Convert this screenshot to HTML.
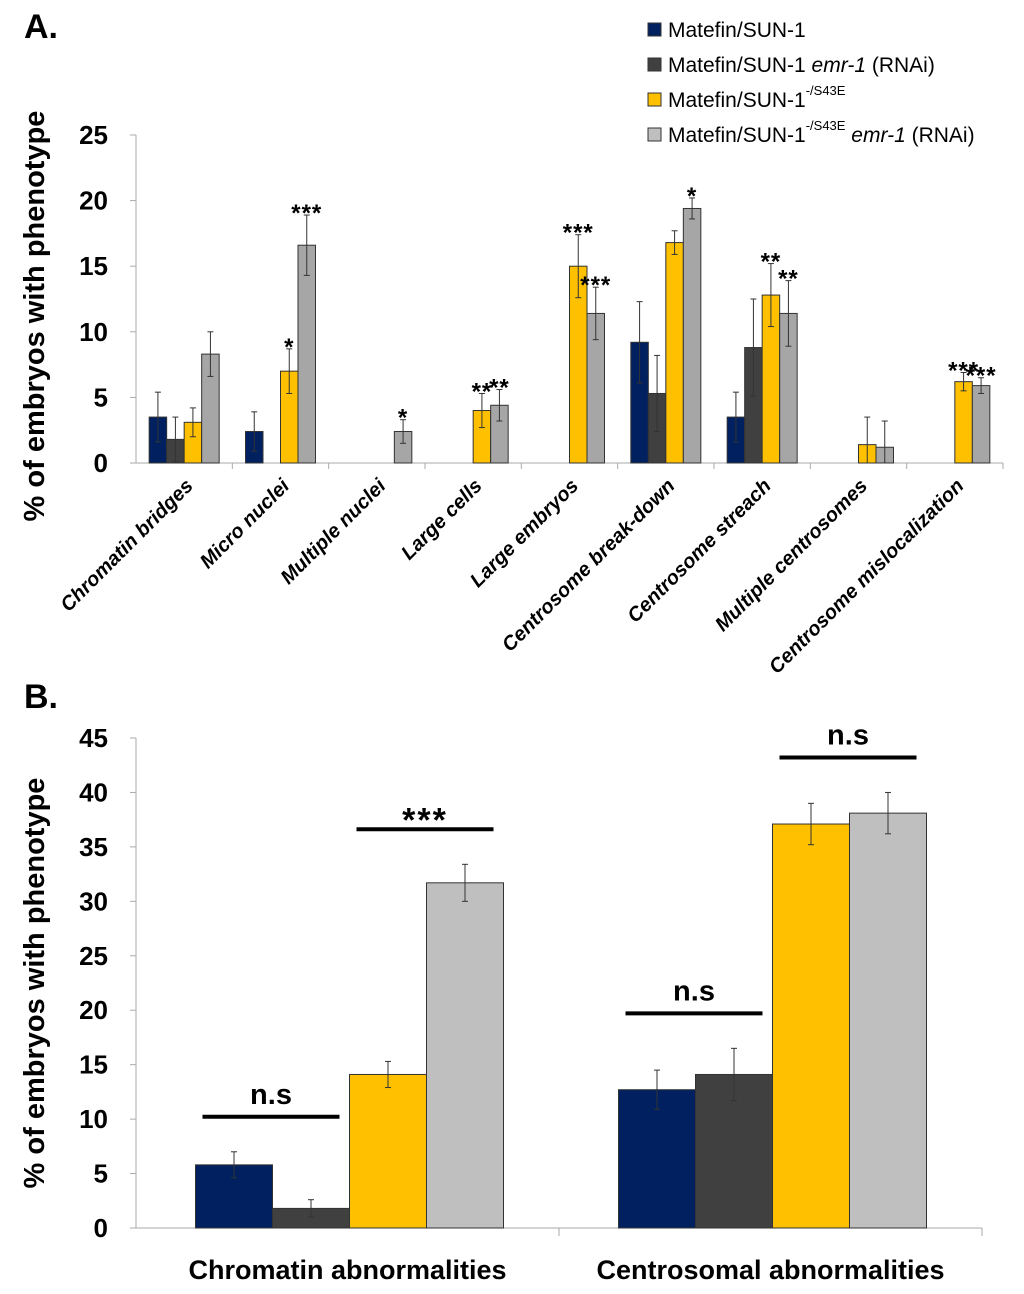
<!DOCTYPE html>
<html><head><meta charset="utf-8"><style>
html,body{margin:0;padding:0;background:#fff;}
svg{display:block;font-family:"Liberation Sans",sans-serif;}
</style></head><body>
<svg id="chart" width="1024" height="1294" viewBox="0 0 1024 1294" xmlns="http://www.w3.org/2000/svg">
<text x="24" y="38" font-size="34" font-weight="bold">A.</text>
<text x="24" y="708" font-size="34" font-weight="bold">B.</text>
<g>
<g><rect x="648" y="23" width="13" height="13" fill="#002060" stroke="#333"/><text x="668" y="37" font-size="21">Matefin/SUN-1</text></g>
<g><rect x="648" y="58" width="13" height="13" fill="#404040" stroke="#333"/><text x="668" y="72" font-size="21">Matefin/SUN-1 <tspan font-style="italic">emr-1</tspan> (RNAi)</text></g>
<g><rect x="648" y="93" width="13" height="13" fill="#ffc000" stroke="#333"/><text x="668" y="107" font-size="21">Matefin/SUN-1<tspan font-size="13" dy="-12">-/S43E</tspan></text></g>
<g><rect x="648" y="128" width="13" height="13" fill="#bfbfbf" stroke="#333"/><text x="668" y="142" font-size="21">Matefin/SUN-1<tspan font-size="13" dy="-12">-/S43E</tspan><tspan dy="12" font-style="italic"> emr-1</tspan> (RNAi)</text></g>
</g>
<g id="pa"></g><g id="pb"></g>
</svg>
<script>
const catsA=["Chromatin bridges","Micro nuclei","Multiple nuclei","Large cells","Large embryos","Centrosome break-down","Centrosome streach","Multiple centrosomes","Centrosome mislocalization"];
const a1=[3.5,2.4,0,0,0,9.2,3.5,0,0];
const a2=[1.8,0,0,0,0,5.3,8.8,0,0];
const a3=[3.1,7.0,0,4.0,15.0,16.8,12.8,1.4,6.2];
const a4=[8.3,16.6,2.4,4.4,11.4,19.4,11.4,1.2,5.9];
const e1=[1.9,1.5,0,0,0,3.1,1.9,0,0];
const e2=[1.7,0,0,0,0,2.9,3.7,0,0];
const e3=[1.1,1.7,0,1.3,2.4,0.9,2.4,2.1,0.7];
const e4=[1.7,2.3,0.9,1.2,2.0,0.8,2.5,2.0,0.6];
const s3=["","*","","**","***","","**","","***"];
const s4=["","***","*","**","***","*","**","","***"];
const ticksA=[0,5,10,15,20,25];
const catsB=["Chromatin  abnormalities","Centrosomal abnormalities"];
const b1=[5.8,12.7],b2=[1.8,14.1],b3=[14.1,37.1],b4=[31.7,38.1];
const f1=[1.2,1.8],f2=[0.8,2.4],f3=[1.2,1.9],f4=[1.7,1.9];
const ticksB=[0,5,10,15,20,25,30,35,40,45];
const colsA=["#002060","#404040","#ffc000","#a6a6a6"];
const colsB=["#002060","#404040","#ffc000","#bfbfbf"];
const NS="http://www.w3.org/2000/svg";
function mk(p,t,at,txt){const e=document.createElementNS(NS,t);for(const k in at)e.setAttribute(k,at[k]);if(txt!==undefined)e.textContent=txt;p.appendChild(e);return e;}
// Panel A
const pa=document.getElementById('pa');
const ax0=136,ax1=1003,ay0=463,ay1=135,amax=25;
const yA=v=>ay0-(v/amax)*(ay0-ay1);
const cwA=(ax1-ax0)/catsA.length,bwA=17.5;
let l=mk(pa,'line',{x1:ax0,y1:ay1,x2:ax0,y2:ay0,stroke:'#aaa'});

l=mk(pa,'line',{x1:ax0,y1:ay0,x2:ax1,y2:ay0,stroke:'#aaa'});

ticksA.forEach(t=>{mk(pa,'line',{x1:ax0-6,y1:yA(t),x2:ax0,y2:yA(t),stroke:'#aaa'});
 const tx=mk(pa,'text',{x:ax0-28,y:yA(t)+9,'font-size':26,'font-weight':'bold','text-anchor':'end'},t);
 });
const ta=mk(pa,'text',{transform:`translate(44,${(ay0+ay1)/2+17}) rotate(-90)`,'font-size':29,'font-weight':'bold','text-anchor':'middle'},'% of embryos with phenotype');

const sA=[a1,a2,a3,a4],eA=[e1,e2,e3,e4];
catsA.forEach((c,i)=>{
 const cx=ax0+cwA*i;
 mk(pa,'line',{x1:cx+cwA,y1:ay0,x2:cx+cwA,y2:ay0+6,stroke:'#aaa'});
 const g0=cx+(cwA-4*bwA)/2;
 sA.forEach((s,j)=>{const v=s[i];if(v<=0)return;const x=g0+j*bwA;
  const r=mk(pa,'rect',{x:x,y:yA(v),width:bwA,height:ay0-yA(v),fill:colsA[j],stroke:'#333','stroke-width':1});
  
  const e=eA[j][i];if(e>0){const xm=x+bwA/2;
   mk(pa,'line',{x1:xm,y1:yA(v+e),x2:xm,y2:yA(Math.max(0,v-e)),stroke:'#333'});
   mk(pa,'line',{x1:xm-3,y1:yA(v+e),x2:xm+3,y2:yA(v+e),stroke:'#333'});
   mk(pa,'line',{x1:xm-3,y1:yA(Math.max(0,v-e)),x2:xm+3,y2:yA(Math.max(0,v-e)),stroke:'#333'});}
 });
 [[s3,2,a3,e3],[s4,3,a4,e4]].forEach(([s,j,vv,ee])=>{if(!s[i])return;
  const st=mk(pa,'text',{x:g0+j*bwA+bwA/2,y:yA(vv[i]+ee[i])+6,'font-size':24,'font-weight':'bold','text-anchor':'middle','letter-spacing':1},s[i]);
  });
 const lab=mk(pa,'text',{transform:`translate(${cx+cwA/2+10},${ay0+24}) rotate(-45)`,'font-size':20,'font-weight':'bold','font-style':'italic','text-anchor':'end'},c);
 
});
// Panel B
const pb=document.getElementById('pb');
const bx0=136,bx1=982,by0=1228,by1=738,bmax=45;
const yB=v=>by0-(v/bmax)*(by0-by1);
const cwB=(bx1-bx0)/2,bwB=77;
l=mk(pb,'line',{x1:bx0,y1:by1,x2:bx0,y2:by0,stroke:'#aaa'});

l=mk(pb,'line',{x1:bx0,y1:by0,x2:bx1,y2:by0,stroke:'#aaa'});

ticksB.forEach(t=>{mk(pb,'line',{x1:bx0-6,y1:yB(t),x2:bx0,y2:yB(t),stroke:'#aaa'});
 const tx=mk(pb,'text',{x:bx0-28,y:yB(t)+9,'font-size':26,'font-weight':'bold','text-anchor':'end'},t);
 });
const tb=mk(pb,'text',{transform:`translate(44,${(by0+by1)/2}) rotate(-90)`,'font-size':29,'font-weight':'bold','text-anchor':'middle'},'% of embryos with phenotype');

const sB=[b1,b2,b3,b4],eB=[f1,f2,f3,f4];
catsB.forEach((c,i)=>{
 const cx=bx0+cwB*i;
 mk(pb,'line',{x1:cx+cwB,y1:by0,x2:cx+cwB,y2:by0+8,stroke:'#aaa'});
 const g0=cx+(cwB-4*bwB)/2+2;
 sB.forEach((s,j)=>{const v=s[i];const x=g0+j*bwB;
  const r=mk(pb,'rect',{x:x,y:yB(v),width:bwB,height:by0-yB(v),fill:colsB[j],stroke:'#333','stroke-width':1});
  
  const e=eB[j][i],xm=x+bwB/2;
  mk(pb,'line',{x1:xm,y1:yB(v+e),x2:xm,y2:yB(Math.max(0,v-e)),stroke:'#333'});
  mk(pb,'line',{x1:xm-3,y1:yB(v+e),x2:xm+3,y2:yB(v+e),stroke:'#333'});
  mk(pb,'line',{x1:xm-3,y1:yB(Math.max(0,v-e)),x2:xm+3,y2:yB(Math.max(0,v-e)),stroke:'#333'});
 });
 const pairs=[[0,1,'n.s'],[2,3,i==0?'***':'n.s']];
 pairs.forEach(([p,q,t])=>{
  const top=Math.max(sB[p][i]+eB[p][i],sB[q][i]+eB[q][i]);
  const ly=yB(top)-35;
  const x1=g0+p*bwB+7,x2=g0+(q+1)*bwB-10;
  const ln=mk(pb,'line',{x1:x1,y1:ly,x2:x2,y2:ly,stroke:'#000','stroke-width':4});
  
  const st=mk(pb,'text',{x:(x1+x2)/2,y:ly-(t==='***'?-2:13),'font-size':t==='***'?34:29,'font-weight':'bold','text-anchor':'middle','letter-spacing':t==='***'?2:0},t);
  
 });
 const lab=mk(pb,'text',{x:cx+cwB/2,y:1279,'font-size':27,'font-weight':'bold','text-anchor':'middle'},c);
 
});
</script>
</body></html>
